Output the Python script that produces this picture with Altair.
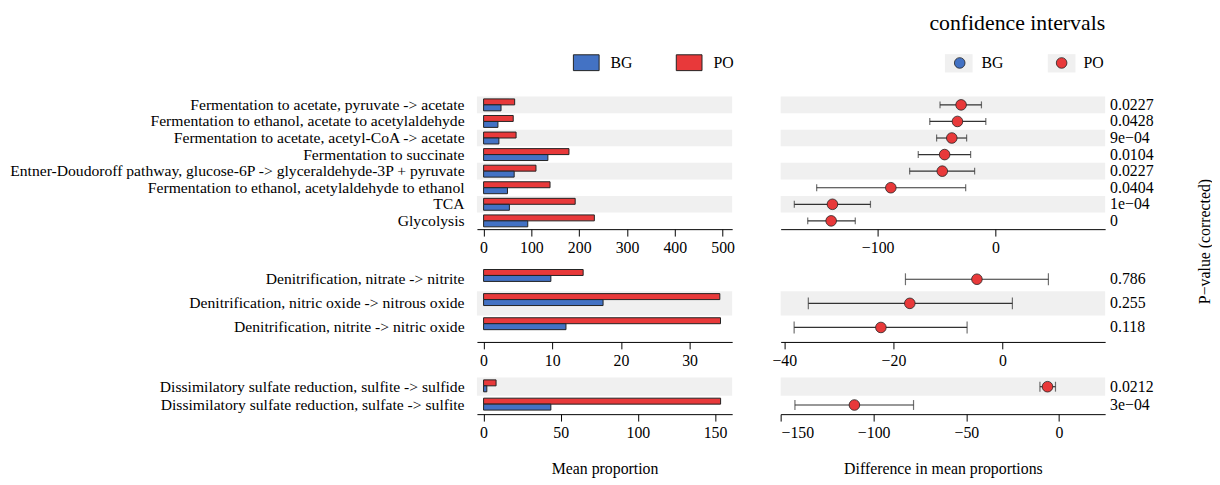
import altair as alt
import pandas as pd

FONT = "Liberation Serif"
BLUE = "#4372C4"
RED = "#E8393A"
STRIPE = "#F0F0F0"
INK = "#222222"

# ---------------- data ----------------
p1_paths = [
    "Fermentation to acetate, pyruvate -> acetate",
    "Fermentation to ethanol, acetate to acetylaldehyde",
    "Fermentation to acetate, acetyl-CoA -> acetate",
    "Fermentation to succinate",
    "Entner-Doudoroff pathway, glucose-6P -> glyceraldehyde-3P + pyruvate",
    "Fermentation to ethanol, acetylaldehyde to ethanol",
    "TCA",
    "Glycolysis",
]
p1_bg = [36.5, 30, 32, 134.5, 64, 50, 54, 92.4]
p1_po = [65, 62, 68, 178.6, 109.6, 139, 191.6, 231.7]
p1_diff = [-29.1, -32.2, -37.0, -43.1, -45.1, -88.8, -138.4, -139.5]
p1_lo = [-47.0, -55.7, -49.9, -65.5, -72.8, -151.8, -170.8, -159.4]
p1_hi = [-11.8, -8.1, -24.4, -21.0, -17.6, -25.2, -106.1, -119.0]
p1_p = ["0.0227", "0.0428", "9e\u221204", "0.0104", "0.0227", "0.0404", "1e\u221204", "0"]

p2_paths = [
    "Denitrification, nitrate -> nitrite",
    "Denitrification, nitric oxide -> nitrous oxide",
    "Denitrification, nitrite -> nitric oxide",
]
p2_bg = [9.8, 17.4, 12.0]
p2_po = [14.5, 34.4, 34.5]
p2_diff = [-4.7, -17.0, -22.3]
p2_lo = [-17.8, -35.6, -38.2]
p2_hi = [8.4, 1.8, -6.5]
p2_p = ["0.786", "0.255", "0.118"]

p3_paths = [
    "Dissimilatory sulfate reduction, sulfite -> sulfide",
    "Dissimilatory sulfate reduction, sulfate -> sulfite",
]
p3_bg = [2.1, 43.6]
p3_po = [8.1, 153.6]
p3_diff = [-6.2, -110.4]
p3_lo = [-10.3, -142.5]
p3_hi = [-1.9, -78.5]
p3_p = ["0.0212", "3e\u221204"]

groups = ["BG", "PO"]

# ---------------- layout ----------------
W_BAR, W_CI = 258, 328
GAP_H, GAP_V = 49, 36

panels = [
    dict(paths=p1_paths, bg=p1_bg, po=p1_po, diff=p1_diff, lo=p1_lo, hi=p1_hi, p=p1_p,
         h=134, pad=0.0, bpad=0.39, bdom=[-13.9, 520], bticks=[0, 100, 200, 300, 400, 500],
         cdom=[-182.4, 93.3], cticks=[-100, 0], cap=7),
    dict(paths=p2_paths, bg=p2_bg, po=p2_po, diff=p2_diff, lo=p2_lo, hi=p2_hi, p=p2_p,
         h=78, pad=0.1, bpad=0.36, bdom=[-0.965, 36.2], bticks=[0, 10, 20, 30],
         cdom=[-40.67, 18.8], cticks=[-40, -20, 0], cap=12),
    dict(paths=p3_paths, bg=p3_bg, po=p3_po, diff=p3_diff, lo=p3_lo, hi=p3_hi, p=p3_p,
         h=37, pad=0.0, bpad=0.33, bdom=[-4.3, 161.1], bticks=[0, 50, 100, 150],
         cdom=[-150.2, 24.9], cticks=[-150, -100, -50, 0], cap=10),
]


def frames(pn):
    n = len(pn["paths"])
    bars = []
    rows = []
    for i, path in enumerate(pn["paths"]):
        bars.append({"pathway": path, "group": "PO", "value": pn["po"][i]})
        bars.append({"pathway": path, "group": "BG", "value": pn["bg"][i]})
        rows.append({"pathway": path, "diff": pn["diff"][i], "lo": pn["lo"][i],
                     "hi": pn["hi"][i], "p": pn["p"][i], "enriched": "PO",
                     "stripe": (n - 1 - i) % 2 == 1})
    return pd.DataFrame(bars), pd.DataFrame(rows)


cells = []
for k, pn in enumerate(panels):
    bars_df, rows_df = frames(pn)
    last = k == len(panels) - 1
    first = k == 0
    yscale = alt.Scale(domain=pn["paths"], paddingInner=0, paddingOuter=pn["pad"])

    # ---------- bar panel ----------
    yax_bar = alt.Axis(title=None, ticks=False, domain=False, labelPadding=13,
                       labelLimit=1000, labelFontSize=15.8, labelFont=FONT)
    xax_bar = alt.Axis(values=pn["bticks"], title="Mean proportion" if last else None,
                       titlePadding=20)
    stripes_b = alt.Chart(rows_df).transform_filter(alt.datum.stripe).mark_rect(
        color=STRIPE).encode(
        y=alt.Y("pathway:N", scale=yscale, axis=yax_bar),
        x=alt.value(0), x2=alt.value(W_BAR))
    legend_bar = alt.Legend(
        orient="none", legendX=97, legendY=-48, direction="horizontal", title=None,
        symbolType="M-1,-0.615L1,-0.615L1,0.615L-1,0.615Z", symbolSize=676,
        symbolStrokeColor=INK, symbolStrokeWidth=1, symbolOpacity=1,
        labelFont=FONT, labelFontSize=16, labelOffset=11, columnPadding=41,
        labelColor="black") if first else None
    bars = alt.Chart(bars_df).mark_bar(stroke=INK, strokeWidth=1).encode(
        y=alt.Y("pathway:N", scale=yscale, axis=yax_bar),
        yOffset=alt.YOffset("group:N", sort=["PO", "BG"],
                            scale=alt.Scale(paddingOuter=pn["bpad"], paddingInner=0)),
        x=alt.X("value:Q", scale=alt.Scale(domain=pn["bdom"], nice=False, zero=False),
                axis=xax_bar),
        color=alt.Color("group:N", scale=alt.Scale(domain=groups, range=[BLUE, RED]),
                        legend=legend_bar),
    )
    bar_panel = alt.layer(stripes_b, bars).properties(width=W_BAR, height=pn["h"])

    # ---------- CI panel ----------
    if first:
        yax_ci = alt.Axis(orient="right", labels=False, ticks=False, domain=False,
                          title="P\u2212value (corrected)", titleX=100, titleY=146,
                          titleAngle=270, titleAlign="center", titleBaseline="middle",
                          titleFontSize=16, titleFont=FONT, titleFontWeight="normal")
    else:
        yax_ci = None
    xax_ci = alt.Axis(values=pn["cticks"],
                      title="Difference in mean proportions" if last else None,
                      titlePadding=20)
    xs_ci = alt.Scale(domain=pn["cdom"], nice=False, zero=False)
    base = alt.Chart(rows_df)
    stripes_c = base.transform_filter(alt.datum.stripe).mark_rect(color=STRIPE).encode(
        y=alt.Y("pathway:N", scale=yscale, axis=yax_ci),
        x=alt.value(0), x2=alt.value(W_CI))
    rule = base.mark_rule(color="#333333", strokeWidth=1.2).encode(
        y=alt.Y("pathway:N", scale=yscale, axis=yax_ci),
        x=alt.X("lo:Q", scale=xs_ci, axis=xax_ci), x2="hi:Q")
    caps = base.transform_fold(["lo", "hi"], as_=["end", "val"]).mark_tick(
        color="#333333", thickness=1.2, size=pn["cap"], orient="vertical").encode(
        y=alt.Y("pathway:N", scale=yscale, axis=yax_ci),
        x=alt.X("val:Q", scale=xs_ci, axis=xax_ci))
    legend_ci = alt.Legend(
        orient="none", legendX=173, legendY=-42, direction="horizontal", title=None,
        symbolType="circle", symbolSize=115, symbolStrokeColor=INK,
        symbolStrokeWidth=0.8, symbolOpacity=1,
        labelFont=FONT, labelFontSize=16, labelOffset=14, columnPadding=50,
        labelColor="black") if first else None
    # grey legend-key backgrounds (drawn beneath the circle legend)
    legend_keys = alt.Legend(
        orient="none", legendX=166, legendY=-48, direction="horizontal", title=None,
        symbolType="M-1,-0.66L1,-0.66L1,0.66L-1,0.66Z", symbolSize=784,
        symbolStrokeWidth=0, symbolOpacity=1, labelOpacity=0,
        labelFont=FONT, labelFontSize=16, labelOffset=9, columnPadding=44) if first else None
    layers = [stripes_c, rule, caps]
    if first:
        keys = base.mark_square(opacity=0).encode(
            y=alt.Y("pathway:N", scale=yscale, axis=yax_ci),
            x=alt.X("diff:Q", scale=xs_ci, axis=xax_ci),
            color=alt.Color("enriched:N",
                            scale=alt.Scale(domain=groups, range=[STRIPE, STRIPE]),
                            legend=legend_keys),
        )
        layers.append(keys)
    pts = base.mark_circle(size=115, opacity=1, stroke=INK, strokeWidth=0.8).encode(
        y=alt.Y("pathway:N", scale=yscale, axis=yax_ci),
        x=alt.X("diff:Q", scale=xs_ci, axis=xax_ci),
        fill=alt.Fill("enriched:N", scale=alt.Scale(domain=groups, range=[BLUE, RED]),
                      legend=legend_ci),
    )
    ptxt = base.mark_text(align="left", baseline="middle", dx=5, font=FONT,
                          fontSize=16, color="black").encode(
        y=alt.Y("pathway:N", scale=yscale, axis=yax_ci),
        x=alt.value(W_CI), text="p:N")
    layers += [pts, ptxt]
    ci_props = dict(width=W_CI, height=pn["h"])
    if first:
        ci_props["title"] = alt.TitleParams(
            "confidence intervals", anchor="end", frame="group", font=FONT,
            fontSize=22, fontWeight="normal", color="black", offset=14)
    ci_panel = alt.layer(*layers).properties(**ci_props)
    if first:
        ci_panel = ci_panel.resolve_scale(color="independent", fill="independent")

    cells.append(bar_panel)
    cells.append(ci_panel)

chart = alt.concat(
    *cells, columns=2, spacing={"row": GAP_V, "column": GAP_H},
    bounds="flush", align="each"
).resolve_scale(
    color="independent", fill="independent", y="independent", x="independent"
).properties(
    padding={"left": 0, "top": 2, "right": 0, "bottom": 0}
).configure(font=FONT, background="white").configure_view(stroke=None).configure_axis(
    grid=False, domainColor="black", domainWidth=1, tickColor="black", tickWidth=1,
    tickSize=7, labelFontSize=16, labelColor="black", labelPadding=4, labelFont=FONT,
    titleFont=FONT, titleFontSize=16, titleFontWeight="normal", titleColor="black",
)

chart.save("out.html", embed_options={"renderer": "svg", "actions": False})
